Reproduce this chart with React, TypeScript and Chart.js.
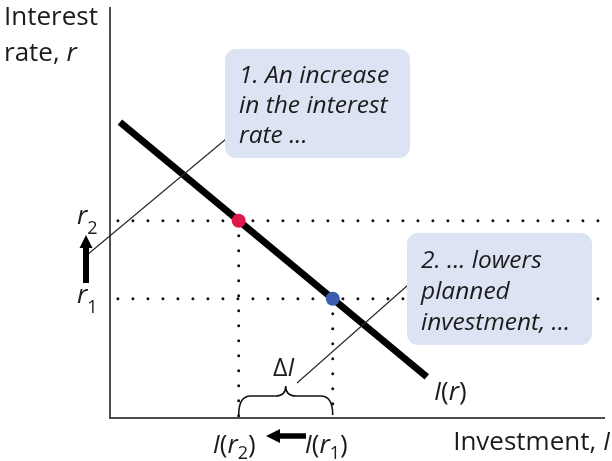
import React, { useEffect, useRef } from "react";
import { Chart, registerables } from "chart.js";

Chart.register(...registerables);

// Investment demand curve I(r): investment (x) vs interest rate (y), in abstract units 0..100
const curveInvestment = [2, 64];
const curveRate = [72, 10];
// r2 (higher rate) and r1 (lower rate)
const rateLevels = [48, 29];
// I(r2) and I(r1)
const investmentLevels = [26, 45];
const pointColors = ["#e0184c", "#3a5db0"];
const calloutOne = ["1. An increase", "in the interest", "rate ..."];
const calloutTwo = ["2. ... lowers", "planned", "investment, ..."];

const SANS = '"Open Sans", "DejaVu Sans", sans-serif';
const INK = "#1c1c1c";
const BOX = "#dce3f3";
const FS = 26;
const SUB = 18;

type Run = { t: string; italic?: boolean; size: number; dy?: number };

function drawRuns(ctx: CanvasRenderingContext2D, x: number, y: number, runs: Run[]) {
  let cx = x;
  for (const r of runs) {
    ctx.font = `${r.italic ? "italic " : ""}${r.size}px ${SANS}`;
    ctx.fillText(r.t, cx, y + (r.dy || 0));
    cx += ctx.measureText(r.t).width;
  }
  return cx;
}

const annotations = {
  id: "annotations",
  afterDatasetsDraw(chart: any) {
    const ctx: CanvasRenderingContext2D = chart.ctx;
    const { left, right, top, bottom } = chart.chartArea;
    const xs = chart.scales.x;
    const ys = chart.scales.y;
    ctx.save();

    // axes
    ctx.strokeStyle = "#4d4d4d";
    ctx.lineWidth = 2;
    ctx.beginPath();
    ctx.moveTo(left, top);
    ctx.lineTo(left, bottom);
    ctx.lineTo(right, bottom);
    ctx.stroke();

    // leader lines
    ctx.strokeStyle = "#2a2a2a";
    ctx.lineWidth = 1.2;
    ctx.beginPath();
    ctx.moveTo(87, 255);
    ctx.lineTo(226, 139);
    ctx.moveTo(297, 383);
    ctx.lineTo(408, 285);
    ctx.stroke();

    // callout boxes
    ctx.fillStyle = BOX;
    ctx.beginPath();
    (ctx as any).roundRect(225, 49, 185, 109, 11);
    ctx.fill();
    ctx.beginPath();
    (ctx as any).roundRect(407, 233, 185, 112, 11);
    ctx.fill();

    ctx.fillStyle = INK;
    ctx.textBaseline = "alphabetic";
    ctx.textAlign = "left";
    ctx.font = `italic 24.5px ${SANS}`;
    const b1 = [83, 113, 143];
    calloutOne.forEach((s, i) => ctx.fillText(s, 239, b1[i]));
    const b2 = [268, 299, 330];
    calloutTwo.forEach((s, i) => ctx.fillText(s, 421, b2[i]));

    // y-axis title
    ctx.font = `${FS}px ${SANS}`;
    ctx.fillText("Interest", 4, 25);
    drawRuns(ctx, 4, 61, [
      { t: "rate, ", size: FS },
      { t: "r", italic: true, size: FS },
    ]);

    // r2 / r1 labels
    const yR2 = ys.getPixelForValue(rateLevels[0]);
    const yR1 = ys.getPixelForValue(rateLevels[1]);
    drawRuns(ctx, 77, yR2 + 3, [
      { t: "r", italic: true, size: FS },
      { t: "2", size: SUB, dy: 10 },
    ]);
    drawRuns(ctx, 77, yR1 + 4, [
      { t: "r", italic: true, size: FS },
      { t: "1", size: SUB, dy: 10 },
    ]);

    // vertical arrow r1 -> r2
    ctx.fillStyle = "#000";
    ctx.beginPath();
    ctx.moveTo(86, 235);
    ctx.lineTo(92.5, 248);
    ctx.lineTo(89, 248);
    ctx.lineTo(89, 283);
    ctx.lineTo(83, 283);
    ctx.lineTo(83, 248);
    ctx.lineTo(79.5, 248);
    ctx.closePath();
    ctx.fill();

    // x labels I(r2) <- I(r1)
    const xI2 = xs.getPixelForValue(investmentLevels[0]);
    const xI1 = xs.getPixelForValue(investmentLevels[1]);
    ctx.fillStyle = INK;
    const base = 453;
    drawRuns(ctx, xI2 - 26, base, [
      { t: "I", italic: true, size: FS },
      { t: "(", size: FS },
      { t: "r", italic: true, size: FS },
      { t: "2", size: SUB, dy: 6 },
      { t: ")", size: FS },
    ]);
    drawRuns(ctx, xI1 - 28, base, [
      { t: "I", italic: true, size: FS },
      { t: "(", size: FS },
      { t: "r", italic: true, size: FS },
      { t: "1", size: SUB, dy: 6 },
      { t: ")", size: FS },
    ]);
    // horizontal arrow
    ctx.fillStyle = "#000";
    ctx.beginPath();
    ctx.moveTo(266, 436);
    ctx.lineTo(280, 429);
    ctx.lineTo(280, 433.3);
    ctx.lineTo(306, 433.3);
    ctx.lineTo(306, 438.7);
    ctx.lineTo(280, 438.7);
    ctx.lineTo(280, 443);
    ctx.closePath();
    ctx.fill();

    // brace
    const xc = (xI1 + xI2) / 2;
    const yb = bottom - 3, ym = 396, yt = 386;
    ctx.strokeStyle = "#111";
    ctx.lineWidth = 1.6;
    ctx.beginPath();
    ctx.moveTo(xI2, yb);
    ctx.quadraticCurveTo(xI2, ym, xI2 + 12, ym);
    ctx.lineTo(xc - 10, ym);
    ctx.quadraticCurveTo(xc, ym, xc, yt);
    ctx.quadraticCurveTo(xc, ym, xc + 10, ym);
    ctx.lineTo(xI1 - 12, ym);
    ctx.quadraticCurveTo(xI1, ym, xI1, yb);
    ctx.stroke();

    // Delta I label
    ctx.fillStyle = INK;
    drawRuns(ctx, 273, 376, [
      { t: "Δ", size: 25 },
      { t: "I", italic: true, size: 25 },
    ]);

    // curve label
    drawRuns(ctx, 434, 400, [
      { t: "I", italic: true, size: FS },
      { t: "(", size: FS },
      { t: "r", italic: true, size: FS },
      { t: ")", size: FS },
    ]);

    // x-axis title
    ctx.font = `${FS}px ${SANS}`;
    const w1 = ctx.measureText("Investment, ").width;
    ctx.font = `italic ${FS}px ${SANS}`;
    const w2 = ctx.measureText("I").width;
    drawRuns(ctx, 610 - w1 - w2, 450, [
      { t: "Investment, ", size: FS },
      { t: "I", italic: true, size: FS },
    ]);

    ctx.restore();
  },
};

export default function App() {
  const ref = useRef<HTMLCanvasElement | null>(null);
  useEffect(() => {
    if (!ref.current) return;
    const dotted = {
      showLine: true,
      borderColor: "#111",
      borderWidth: 3,
      borderDash: [0, 15],
      borderCapStyle: "round",
      pointRadius: 0,
      fill: false,
      clip: false,
      order: 3,
    };
    const chart = new Chart(ref.current, {
      type: "scatter",
      data: {
        datasets: [
          {
            label: "points",
            data: [
              { x: investmentLevels[0], y: rateLevels[0] },
              { x: investmentLevels[1], y: rateLevels[1] },
            ],
            backgroundColor: pointColors,
            borderWidth: 0,
            pointRadius: 7,
            showLine: false,
            clip: false,
            order: 0,
          } as any,
          {
            label: "I(r)",
            data: curveInvestment.map((x, i) => ({ x, y: curveRate[i] })),
            showLine: true,
            borderColor: "#000",
            borderWidth: 7,
            pointRadius: 0,
            clip: false,
            order: 1,
          } as any,
          { ...dotted, label: "r2", data: [{ x: 1.6, y: rateLevels[0] }, { x: 100, y: rateLevels[0] }] } as any,
          { ...dotted, label: "r1", data: [{ x: 1.6, y: rateLevels[1] }, { x: 100, y: rateLevels[1] }] } as any,
          { ...dotted, label: "Ir2", data: [{ x: investmentLevels[0], y: rateLevels[0] }, { x: investmentLevels[0], y: 0 }] } as any,
          { ...dotted, label: "Ir1", data: [{ x: investmentLevels[1], y: rateLevels[1] }, { x: investmentLevels[1], y: 0 }] } as any,
        ],
      },
      options: {
        animation: false,
        responsive: false,
        maintainAspectRatio: false,
        devicePixelRatio: 1,
        layout: { padding: { left: 110, top: 6, right: 0, bottom: 43 } },
        scales: {
          x: { type: "linear", min: 0, max: 100, display: false },
          y: { type: "linear", min: 0, max: 100, display: false },
        },
        plugins: { legend: { display: false }, tooltip: { enabled: false } },
        events: [],
      } as any,
      plugins: [annotations],
    });
    return () => chart.destroy();
  }, []);
  return (
    <div style={{ position: "fixed", left: 0, top: 0, width: 612, height: 461, background: "#fff" }}>
      <canvas ref={ref} width={612} height={461} style={{ width: 612, height: 461 }} />
    </div>
  );
}
